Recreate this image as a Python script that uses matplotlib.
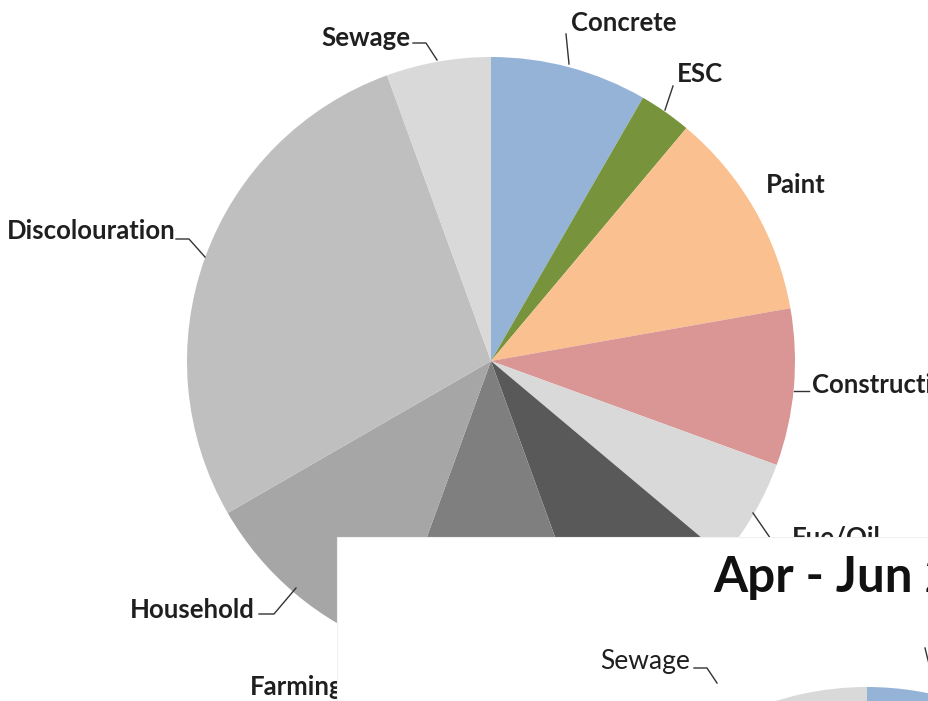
import matplotlib
matplotlib.use("Agg")
import matplotlib.pyplot as plt
from matplotlib.patches import Rectangle

# ---- data (Jan - Mar chart, fully drawn) ----
categories = ["Concrete", "ESC", "Paint", "Construction", "Fue/Oil", "Other",
              "Farming", "Household", "Discolouration", "Sewage"]
counts_q1 = [3, 1, 4, 3, 2, 3, 4, 4, 10, 2]
colors = ["#95B3D7", "#77933C", "#FAC090", "#D99694", "#D9D9D9", "#595959",
          "#7F7F7F", "#A6A6A6", "#BFBFBF", "#D9D9D9"]

# ---- data (Apr - Jun chart, mostly hidden) ----
counts_q2 = [3, 1, 2, 2, 3, 2, 3, 3, 8, 2]
title_q2 = "Apr - Jun 2013"

W, H = 929, 701
def Y(py):
    return H - py

fig = plt.figure(figsize=(W / 100, H / 100), dpi=100)
ax = fig.add_axes([0, 0, 1, 1])

FONT = "Lato"
TXT = "#1f1f1f"
LS = 18.5

# main pie
ax.pie(counts_q1, colors=colors, startangle=90, counterclock=False,
       center=(491, Y(361)), radius=304, wedgeprops=dict(linewidth=0))

# labels of main pie: (x_left, y_center) in pixels
lab_pos = {
    "Sewage": (321, 38),
    "Concrete": (571, 23),
    "ESC": (677, 74),
    "Paint": (766, 185),
    "Construction": (812, 385),
    "Discolouration": (7, 231),
    "Household": (130, 610),
    "Farming": (250, 687),
    "Other": (560, 690),
}
for name in categories:
    if name in lab_pos:
        x, y = lab_pos[name]
        ax.text(x, Y(y), name, ha="left", va="center", fontsize=LS,
                fontweight="bold", family=FONT, color=TXT, zorder=3)
# Fue/Oil label sits just behind the top edge of the second panel
ax.text(792, Y(546), "Fue/Oil", ha="left", va="baseline", fontsize=LS,
        fontweight="bold", family=FONT, color=TXT, zorder=3)

# leader lines (pixel coords)
leaders = [
    [(413, 43), (426, 43), (437, 60)],
    [(566, 34), (569, 64)],
    [(673, 86), (665, 110)],
    [(794, 391), (809, 391)],
    [(753, 513), (775, 545)],
    [(176, 239), (189, 239), (205, 257)],
    [(259, 614), (274, 614), (296, 588)],
]
for pts in leaders:
    ax.plot([p[0] for p in pts], [Y(p[1]) for p in pts],
            color="#333333", lw=1.0, zorder=3)

# overlapping white panel of the second chart
ax.add_patch(Rectangle((337, Y(701)), W - 337 + 5, 701 - 537,
                       facecolor="white", edgecolor="#f0f0f0", lw=0.8, zorder=5))

# second chart title
ax.text(713, Y(578), title_q2, ha="left", va="center", fontsize=35.5,
        family=FONT, fontweight="bold", color="#111111", zorder=7)

# second pie (only its top edge is visible)
wedges2, _ = ax.pie(counts_q2, colors=colors, startangle=90, counterclock=False,
                    center=(867, Y(687 + 304)), radius=304,
                    wedgeprops=dict(linewidth=0))
for w in wedges2:
    w.set_zorder(6)

ax.text(600, Y(661), "Sewage", ha="left", va="center", fontsize=19,
        family=FONT, color=TXT, zorder=7)
for pts in [[(694, 668), (707, 668), (717, 683)], [(925, 648), (931, 672)]]:
    ax.plot([p[0] for p in pts], [Y(p[1]) for p in pts], color="#333333",
            lw=1.0, zorder=7)

ax.set_xlim(0, W)
ax.set_ylim(0, H)
ax.set_aspect("equal")
ax.axis("off")

fig.savefig("out.png", dpi=100)
